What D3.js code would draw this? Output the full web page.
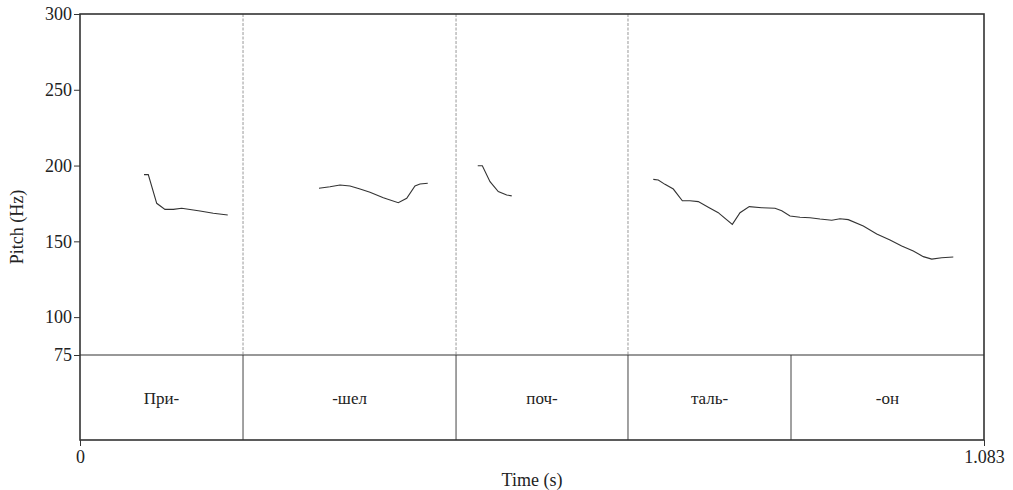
<!DOCTYPE html>
<html>
<head>
<meta charset="utf-8">
<script src="https://cdn.jsdelivr.net/npm/d3@7"></script>
<style>
  body { margin: 0; background: #fff; }
</style>
</head>
<body>
<svg id="chart" width="1013" height="490"></svg>
<script>
// pitch contours, one array per voiced stretch: [time (s), pitch (Hz)]
const seg1 = [[0.0767,194.0],[0.0818,194.0],[0.0919,175.1],[0.1018,171.1],[0.1118,171.1],[0.1218,171.8],[0.1438,170.0],[0.1597,168.5],[0.1770,167.4]];
const seg2 = [[0.2863,185.0],[0.2995,186.0],[0.3115,187.2],[0.3235,186.5],[0.3355,184.5],[0.3474,182.4],[0.3634,178.8],[0.3813,175.5],[0.3914,178.4],[0.4013,186.5],[0.4073,187.8],[0.4166,188.3]];
const seg3 = [[0.4765,199.9],[0.4820,199.9],[0.4912,189.4],[0.5011,182.8],[0.5112,180.6],[0.5172,180.0]];
const seg4 = [[0.6868,190.9],[0.6928,190.5],[0.7008,187.6],[0.7108,184.5],[0.7216,176.8],[0.7308,176.8],[0.7407,176.2],[0.7527,172.5],[0.7647,168.9],[0.7667,168.0],[0.7815,161.2],[0.7907,168.9],[0.8018,172.9],[0.8167,172.2],[0.8326,171.8],[0.8407,170.2],[0.8506,166.7],[0.8626,165.9],[0.8746,165.6],[0.8865,164.7],[0.9006,163.9],[0.9105,164.9],[0.9204,164.3],[0.9384,160.1],[0.9545,154.8],[0.9704,150.9],[0.9844,146.9],[0.9983,143.6],[1.0103,139.9],[1.0204,138.3],[1.0323,139.2],[1.0462,139.7]];
const segments = [seg1, seg2, seg3, seg4];

// syllable tier
const syllables = ["При-", "-шел", "поч-", "таль-", "-он"];
const bounds = [0, 0.1953, 0.4505, 0.6565, 0.8518, 1.083];
// boundaries that are also drawn through the pitch area
const wordBounds = [0.1953, 0.4505, 0.6565];

const yTicks = [75, 100, 150, 200, 250, 300];
const tMax = 1.083;

const serif = '"Liberation Serif", "Times New Roman", serif';
const svg = d3.select("#chart");
const mLeft = 80, mRight = 984, mTop = 14, pitchBottom = 355, tierBottom = 440;

const x = d3.scaleLinear().domain([0, tMax]).range([mLeft, mRight]);
const y = d3.scaleLinear().domain([75, 300]).range([pitchBottom, mTop]);

// dotted boundary lines in the pitch area
svg.append("g").selectAll("line")
  .data(wordBounds)
  .enter()
  .append("line")
  .attr("x1", d => x(d)).attr("x2", d => x(d))
  .attr("y1", mTop).attr("y2", pitchBottom)
  .style("stroke", "#999")
  .style("stroke-width", 1)
  .style("stroke-dasharray", "3,1.5");

// tier boundaries
svg.append("g").selectAll("line")
  .data(bounds.slice(1, -1))
  .enter()
  .append("line")
  .attr("x1", d => x(d)).attr("x2", d => x(d))
  .attr("y1", pitchBottom).attr("y2", tierBottom)
  .style("stroke", "#444")
  .style("stroke-width", 1);

// tier labels
svg.append("g").selectAll("text")
  .data(syllables)
  .enter()
  .append("text")
  .attr("x", (d, i) => (x(bounds[i]) + x(bounds[i + 1])) / 2)
  .attr("y", 404)
  .attr("text-anchor", "middle")
  .style("font-family", serif)
  .style("font-size", "17px")
  .style("fill", "#222")
  .text(d => d);

// pitch contours
const line = d3.line().x(d => x(d[0])).y(d => y(d[1]));
svg.append("g").selectAll("path")
  .data(segments)
  .enter()
  .append("path")
  .attr("d", line)
  .attr("fill", "none")
  .style("stroke", "#333")
  .style("stroke-width", 1.1);

// frame
svg.append("rect")
  .attr("x", mLeft).attr("y", mTop)
  .attr("width", mRight - mLeft).attr("height", tierBottom - mTop)
  .attr("fill", "none")
  .style("stroke", "#333")
  .style("stroke-width", 1.6);
svg.append("line")
  .attr("x1", mLeft).attr("x2", mRight)
  .attr("y1", pitchBottom).attr("y2", pitchBottom)
  .style("stroke", "#333")
  .style("stroke-width", 1.1);

// y axis
const yAxis = d3.axisLeft(y).tickValues(yTicks).tickSize(6).tickFormat(d3.format("d"));
const gy = svg.append("g").attr("transform", `translate(${mLeft},0)`).call(yAxis);
gy.attr("font-family", null).attr("font-size", null);
gy.select(".domain").remove();
gy.selectAll(".tick line").style("stroke", "#333");
gy.selectAll(".tick text")
  .style("font-family", serif).style("font-size", "18px")
  .attr("x", -8).attr("fill", "#222");

// time axis: only the ends
const xAxis = d3.axisBottom(x).tickValues([0, tMax]).tickSize(6).tickFormat(d => d === 0 ? "0" : "1.083");
const gx = svg.append("g").attr("transform", `translate(0,${tierBottom})`).call(xAxis);
gx.attr("font-family", null).attr("font-size", null);
gx.select(".domain").remove();
gx.selectAll(".tick line").style("stroke", "#333");
gx.selectAll(".tick text")
  .style("font-family", serif).style("font-size", "18px")
  .attr("y", 10).attr("fill", "#222");

svg.append("text")
  .attr("x", (mLeft + mRight) / 2)
  .attr("y", 486)
  .attr("text-anchor", "middle")
  .style("font-family", serif)
  .style("font-size", "18px")
  .style("fill", "#222")
  .text("Time (s)");

// y label is centred on the whole frame (pitch + tier)
svg.append("text")
  .attr("transform", `translate(23,${(mTop + tierBottom) / 2}) rotate(-90)`)
  .attr("text-anchor", "middle")
  .style("font-family", serif)
  .style("font-size", "18px")
  .style("fill", "#222")
  .text("Pitch (Hz)");
</script>
</body>
</html>
